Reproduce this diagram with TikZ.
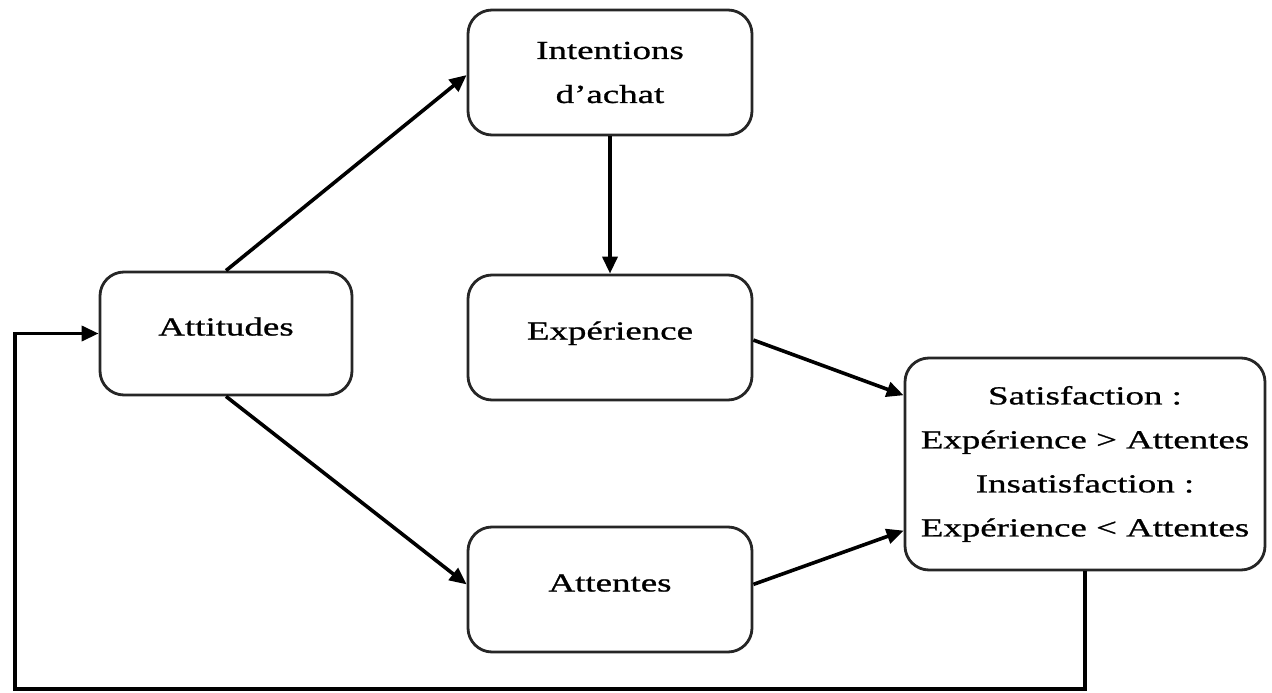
\documentclass[tikz,border=0pt]{standalone}
\usepackage{fontspec}
\setmainfont{Liberation Serif}[FakeStretch=1.42,FakeBold=0.9]
\usetikzlibrary{arrows.meta}
\begin{document}
\begin{tikzpicture}[x=1pt,y=-1pt,
  box/.style={draw=black!85, line width=2.8pt, rounded corners=24pt, fill=white,
    align=center, font=\fontsize{26}{44}\selectfont, inner sep=0pt},
  onebox/.style={box, minimum width=284pt, minimum height=125pt, text height=18pt, text depth=14pt},
  arr/.style={line width=3.6pt, -{Triangle[length=17pt,width=15pt]}}
]
\useasboundingbox (0,0) rectangle (1272,693);
\node[box, minimum width=284pt, minimum height=125pt] (int) at (610,72.5) {Intentions\\d’achat};
\node[onebox, minimum width=252pt, minimum height=123pt] (att) at (226,333.5) {Attitudes};
\node[onebox] (exp) at (610,337.5) {Expérience};
\node[onebox] (atn) at (610,589.5) {Attentes};
\node[box, minimum width=360pt, minimum height=212pt] (sat) at (1085,464)
  {Satisfaction :\\Expérience > Attentes\\Insatisfaction :\\Expérience < Attentes};
\path (sat.north west) -- (sat.south west) coordinate[pos=0.18] (s1) coordinate[pos=0.81] (s2);
\path (exp.north east) -- (exp.south east) coordinate[pos=0.52] (e1);
\path (atn.north east) -- (atn.south east) coordinate[pos=0.46] (a1);
\path (int.north west) -- (int.south west) coordinate[pos=0.52] (i1);
\path (atn.north west) -- (atn.south west) coordinate[pos=0.46] (a2);
\coordinate (fb) at (15,689);
\draw[arr] (att.north) -- (i1);
\draw[arr] (att.south) -- (a2);
\draw[arr] (int.south) -- (exp.north);
\draw[arr] (e1) -- (s1);
\draw[arr] (a1) -- (s2);
\draw[arr] (sat.south) |- (fb) |- (att.west);
\end{tikzpicture}
\end{document}
